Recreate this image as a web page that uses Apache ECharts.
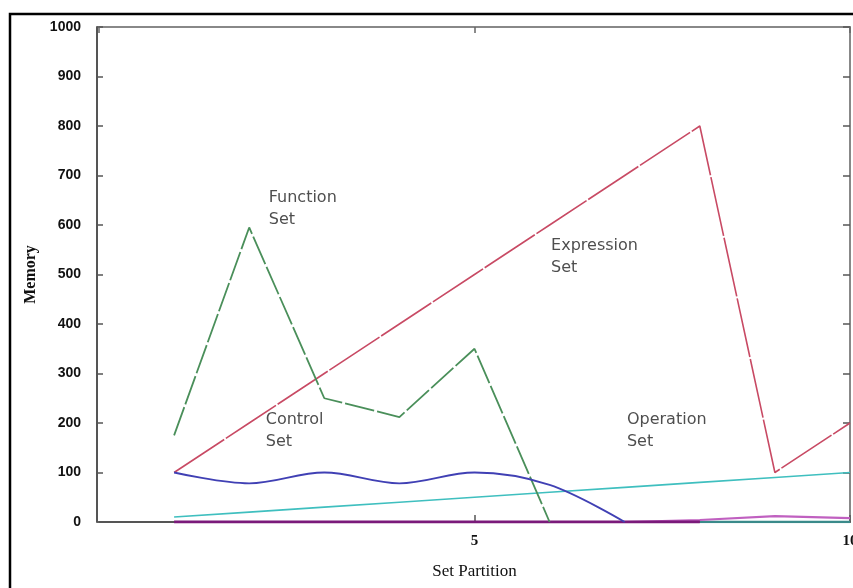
<!DOCTYPE html>
<html>
<head>
<meta charset="utf-8">
<script src="https://cdn.jsdelivr.net/npm/echarts@6/dist/echarts.min.js"></script>
<style>
html,body{margin:0;padding:0;background:#fff;}
#chart{width:853px;height:588px;}
</style>
</head>
<body>
<div id="chart"></div>
<script>
// Data
const setPartition = [1, 2, 3, 4, 5, 6, 7, 8, 9, 10];
const expressionSet = [100, 200, 300, 400, 500, 600, 700, 800, 100, 200];
const functionSet = [175, 595, 250, 212, 350, 0, null, null, null, null];
const controlSet = [100, 78, 100, 78, 100, 75, 0, null, null, null];
const operationSet = [10, 20, 30, 40, 50, 60, 70, 80, 90, 100];
const baseSet = [0, 0, 0, 0, 0, 0, 0, 0, null, null];
const tailBase = [null, null, null, null, null, null, null, 0, 0, 0];
const smallSet = [null, null, null, null, null, null, 0, 4, 12, 8];
const yTicks = [0, 100, 200, 300, 400, 500, 600, 700, 800, 900, 1000];

const annotationText = ['Function\nSet', 'Control\nSet', 'Expression\nSet', 'Operation\nSet'];
const annotationX = [2.26, 2.22, 6.02, 7.03];
const annotationY = [677, 228, 580, 228];

function pairs(vals) {
  return setPartition.map((x, i) => [x, vals[i]]);
}

const chart = echarts.init(document.getElementById('chart'));

function lineSeries(name, vals, color, width, type, smooth) {
  return {
    name: name, type: 'line', data: pairs(vals), showSymbol: false, symbol: 'none',
    smooth: smooth || false, connectNulls: false, silent: true,
    lineStyle: { color: color, width: width, type: type || 'solid' },
    z: 3
  };
}

const option = {
  animation: false,
  backgroundColor: '#fff',
  grid: { left: 99, top: 27, right: 3, bottom: 66, containLabel: false, outerBoundsMode: 'none' },
  graphic: [{
    type: 'rect', silent: true, z: 100,
    shape: { x: 10, y: 14, width: 900, height: 700 },
    style: { fill: 'none', stroke: '#000', lineWidth: 2.5 }
  }],
  xAxis: [{
    type: 'value', min: 0, max: 10, interval: 5, position: 'bottom',
    name: 'Set Partition', nameLocation: 'middle', nameGap: 41,
    nameTextStyle: { fontFamily: 'Liberation Serif', fontSize: 17, color: '#111' },
    axisLine: { show: true, onZero: false, lineStyle: { color: '#555', width: 2 } },
    axisTick: { show: true, inside: true, length: 7, lineStyle: { color: '#555', width: 1.5 } },
    axisLabel: { showMinLabel: false, margin: 12, fontFamily: 'Liberation Serif', fontWeight: 'bold', fontSize: 15, color: '#111' },
    splitLine: { show: false }
  }, {
    type: 'value', min: 0, max: 10, interval: 5, position: 'top',
    axisLine: { show: true, onZero: false, lineStyle: { color: '#888', width: 2 } },
    axisTick: { show: true, inside: true, length: 6, lineStyle: { color: '#666', width: 1.5 } },
    axisLabel: { show: false },
    splitLine: { show: false }
  }],
  yAxis: [{
    type: 'value', min: yTicks[0], max: yTicks[yTicks.length - 1], interval: 100, position: 'left', offset: 2,
    name: 'Memory', nameLocation: 'middle', nameGap: 53, nameRotate: 90,
    nameTextStyle: { fontFamily: 'Liberation Serif', fontWeight: 'bold', fontSize: 16, color: '#111' },
    axisLine: { show: true, onZero: false, lineStyle: { color: '#555', width: 2 } },
    axisTick: { show: true, inside: true, length: 6, lineStyle: { color: '#555', width: 1.5 } },
    axisLabel: { margin: 16, formatter: v => String(v), fontFamily: 'Liberation Sans', fontWeight: 'bold', fontSize: 14, color: '#111' },
    splitLine: { show: false }
  }, {
    type: 'value', min: yTicks[0], max: yTicks[yTicks.length - 1], interval: 100, position: 'right',
    axisLine: { show: true, onZero: false, lineStyle: { color: '#888', width: 2 } },
    axisTick: { show: true, inside: true, length: 7, lineStyle: { color: '#555', width: 1.5 } },
    axisLabel: { show: false },
    splitLine: { show: false }
  }],
  series: [
    lineSeries('Operation Set', operationSet, '#3fbfbf', 1.6),
    lineSeries('Base tail', tailBase, '#3a8a8a', 2.5),
    lineSeries('Small', smallSet, '#c060c0', 2.2),
    lineSeries('Base', baseSet, '#7a1a7a', 3.2),
    lineSeries('Expression Set', expressionSet, '#c84a64', 1.6, [60, 2]),
    lineSeries('Function Set', functionSet, '#4a8f5a', 1.8, [30, 3]),
    lineSeries('Control Set', controlSet, '#4040b4', 1.8, 'solid', 0.35),
    {
      name: 'Annotations', type: 'scatter', symbolSize: 0, silent: true, z: 5,
      data: annotationText.map((t, i) => ({ value: [annotationX[i], annotationY[i]], name: t })),
      label: {
        show: true, position: [0, 0], align: 'left', verticalAlign: 'top',
        formatter: p => p.name,
        fontFamily: 'DejaVu Sans', fontSize: 16, lineHeight: 22, color: '#222'
      }
    }
  ]
};
chart.setOption(option);
</script>
</body>
</html>
